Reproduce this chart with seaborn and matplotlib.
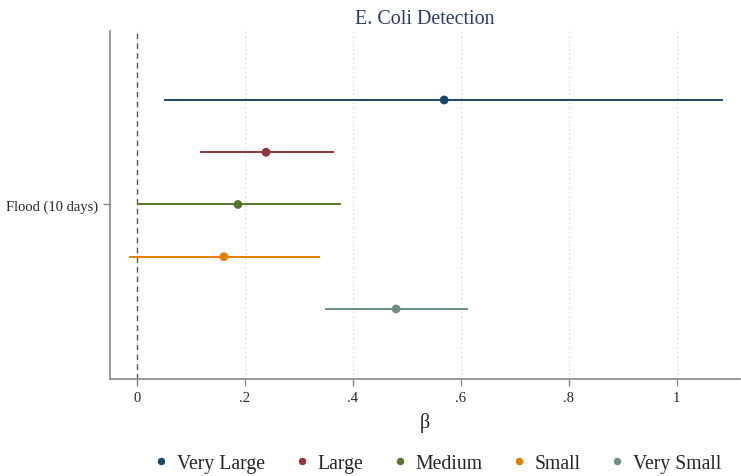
import numpy as np
import pandas as pd
import matplotlib
matplotlib.use("Agg")
import matplotlib.pyplot as plt
import seaborn as sns

# coefficients and 95% CI
groups = ["Very Large", "Large", "Medium", "Small", "Very Small"]
beta = [0.569, 0.239, 0.187, 0.161, 0.480]
ci_low = [0.050, 0.117, 0.000, -0.015, 0.348]
ci_high = [1.085, 0.365, 0.378, 0.339, 0.613]
colors = ["#1a476f", "#90353b", "#55752f", "#e37e00", "#6e8e84"]

df = pd.DataFrame({"group": groups, "beta": beta, "lo": ci_low, "hi": ci_high})
df["pos"] = np.arange(1, len(groups) + 1)

sns.set_style("white")
plt.rcParams["font.family"] = ["Liberation Serif", "DejaVu Serif"]

fig = plt.figure(figsize=(7.41, 4.77), dpi=100)
ax = fig.add_axes([0.1484, 0.2034, 0.8503, 0.7295])

for i, row in df.iterrows():
    ax.hlines(row["pos"], row["lo"], row["hi"], color=colors[i], lw=1.4, zorder=2)

sns.scatterplot(data=df, x="beta", y="pos", hue="group", palette=colors,
                hue_order=groups, s=40, edgecolor="none", zorder=3, ax=ax)

ax.axvline(0, color="#555555", ls=(0, (4, 3)), lw=1.0, zorder=1)
ax.set_xlim(-0.05, 1.117)
ax.set_ylim(6.34, -0.32)
ax.set_xticks([0, 0.2, 0.4, 0.6, 0.8, 1.0])
ax.set_xticklabels(["0", ".2", ".4", ".6", ".8", "1"])
ax.set_yticks([3])
ax.set_yticklabels(["Flood (10 days)"])
ax.xaxis.grid(True, color="#cccccc", ls=(0, (1, 3)), lw=0.8)
ax.yaxis.grid(False)
ax.tick_params(axis="both", labelsize=10.5, length=5, color="#888888",
               width=1, direction="out", bottom=True, left=True)
for s in ["top", "right"]:
    ax.spines[s].set_visible(False)
for s in ["left", "bottom"]:
    ax.spines[s].set_color("#888888")
    ax.spines[s].set_linewidth(1.2)

ax.set_xlabel("β", fontsize=14.5, labelpad=6)
ax.set_ylabel("")
ax.set_title("E. Coli Detection", fontsize=14.4, color="#2a3a66", pad=6)

handles, labels = ax.get_legend_handles_labels()
ax.legend(handles, labels, loc="center", bbox_to_anchor=(0.52, -0.242),
          ncol=5, frameon=False, fontsize=14.2, handlelength=0.8,
          handletextpad=0.4, columnspacing=1.45, markerscale=0.85)

fig.savefig("out.png", dpi=100)
